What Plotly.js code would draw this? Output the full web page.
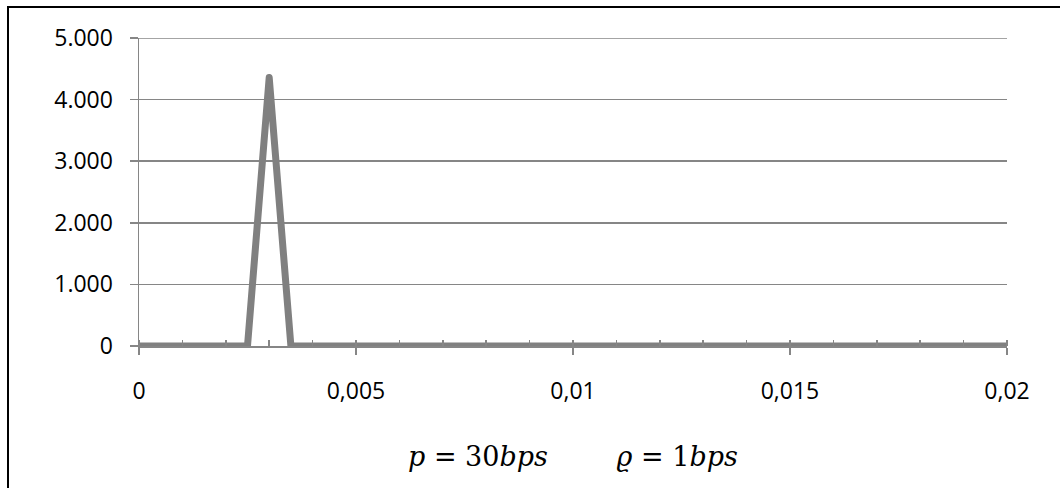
<!DOCTYPE html>
<html>
<head>
<meta charset="utf-8">
<script src="https://cdn.plot.ly/plotly-3.0.1.min.js"></script>
<style>
  html, body { margin: 0; padding: 0; background: #fff; }
  #wrap { position: relative; width: 1060px; height: 488px; overflow: hidden; }
  #chart { width: 1060px; height: 488px; }
  #frame { position: absolute; left: 7px; top: 6px; width: 1100px; height: 600px;
           border-left: 2px solid #000; border-top: 2px solid #000; pointer-events: none; }
  .scatterlayer path.js-line { stroke-linejoin: round !important; stroke-linecap: round !important; }
</style>
</head>
<body>
<div id="wrap">
  <div id="chart"></div>
  <div id="frame"></div>
</div>
<script>
// Data
const xValues = [0, 0.0025, 0.003, 0.0035, 0.02];
const yValues = [0, 0, 4360, 0, 0];
const xTickVals = [0, 0.005, 0.01, 0.015, 0.02];
const xTickText = ['0', '0,005', '0,01', '0,015', '0,02'];
const yTickVals = [0, 1000, 2000, 3000, 4000, 5000];
const yTickText = ['0', '1.000', '2.000', '3.000', '4.000', '5.000'];
const titleText = '<i>p</i>\u00a0=\u00a030<i>bps</i>\u00a0\u00a0\u00a0\u00a0\u00a0\u00a0\u00a0\u00a0<i>\u03F1</i>\u00a0=\u00a01<i>bps</i>';

const gray = '#868686';
const tickFont = { family: 'Open Sans, sans-serif', size: 23, color: '#000' };

const trace = {
  x: xValues,
  y: yValues,
  type: 'scatter',
  mode: 'lines',
  line: { color: '#808080', width: 7 },
  hoverinfo: 'skip'
};

const layout = {
  width: 1060,
  height: 488,
  margin: { l: 139, r: 53, t: 38, b: 142, pad: 0 },
  paper_bgcolor: '#fff',
  plot_bgcolor: '#fff',
  showlegend: false,
  separators: ',.',
  xaxis: {
    range: [0, 0.02],
    tickmode: 'array',
    tickvals: xTickVals,
    ticktext: xTickText,
    ticks: 'outside',
    ticklen: 7,
    tickwidth: 1.5,
    tickcolor: gray,
    showline: true,
    linecolor: gray,
    linewidth: 1.5,
    showgrid: false,
    zeroline: false,
    tickfont: tickFont,
    ticklabelstandoff: 17,
    minor: { dtick: 0.001, tick0: 0, ticks: 'inside', ticklen: 6, tickwidth: 1.5, tickcolor: gray, showgrid: false }
  },
  yaxis: {
    range: [0, 5000],
    tickmode: 'array',
    tickvals: yTickVals,
    ticktext: yTickText,
    ticks: 'outside',
    ticklen: 8,
    tickwidth: 1.5,
    tickcolor: gray,
    showline: true,
    linecolor: gray,
    linewidth: 1.5,
    showgrid: true,
    gridcolor: gray,
    gridwidth: 1.5,
    zeroline: false,
    tickfont: tickFont,
    ticklabelstandoff: 12
  },
  shapes: [{
    type: 'line', xref: 'paper', yref: 'y',
    x0: 0, x1: 1, y0: yTickVals[yTickVals.length - 1], y1: yTickVals[yTickVals.length - 1],
    line: { color: gray, width: 1.5 }, layer: 'below'
  }],
  annotations: [{
    text: titleText,
    xref: 'paper', yref: 'paper',
    x: 0.5, y: -0.36,
    xanchor: 'center', yanchor: 'middle',
    showarrow: false,
    font: { family: 'DejaVu Serif, serif', size: 27, color: '#000' }
  }]
};

Plotly.newPlot('chart', [trace], layout, { displayModeBar: false, staticPlot: true });
</script>
</body>
</html>
